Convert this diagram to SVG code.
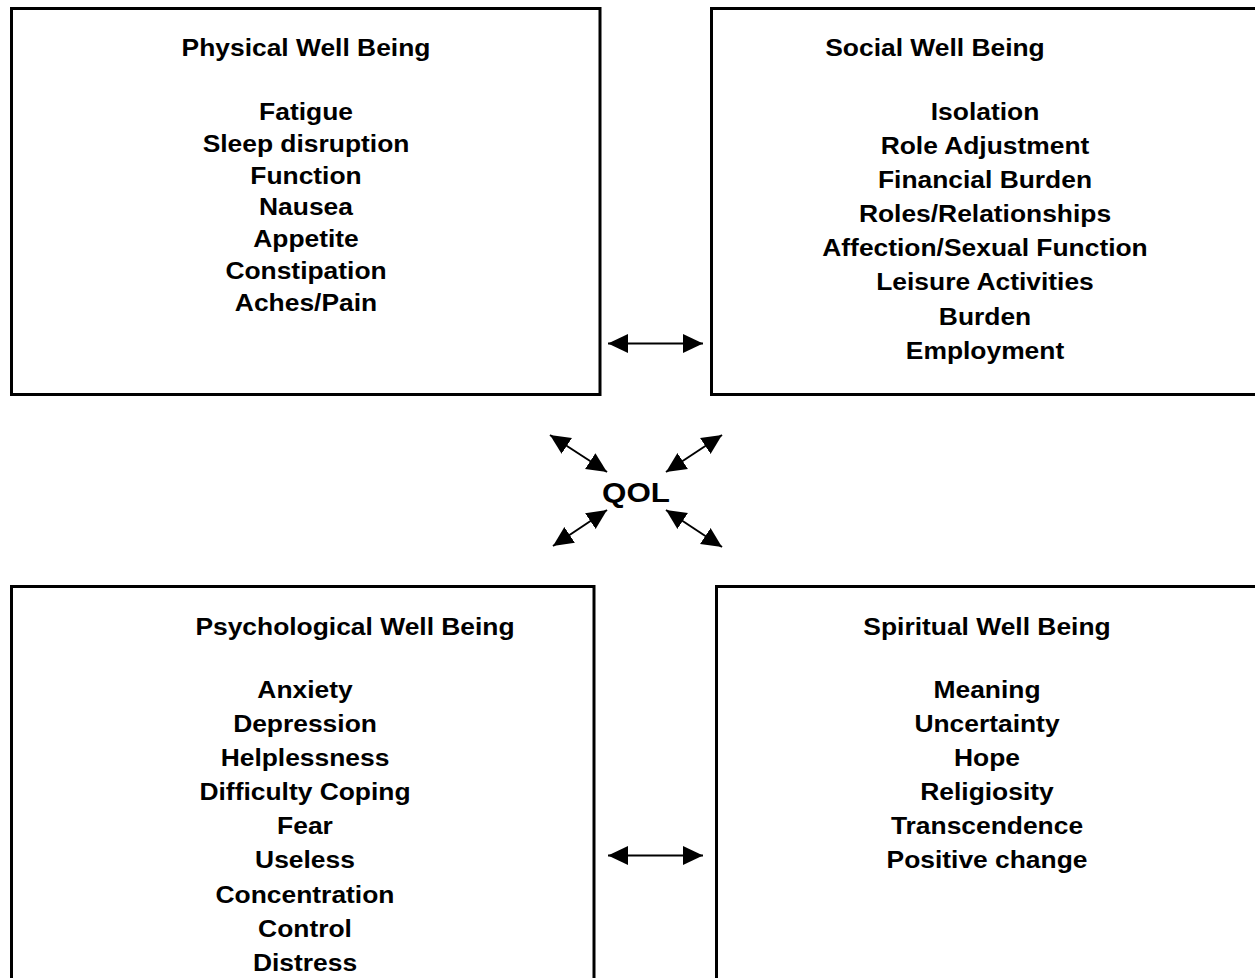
<svg xmlns="http://www.w3.org/2000/svg" width="1255" height="978" viewBox="0 0 1255 978">
<style>
.box{fill:#fff;stroke:#000;stroke-width:3}
.t{font-family:"Liberation Sans",Arial,sans-serif;font-weight:bold;font-size:24px;fill:#000;text-anchor:middle}
.q{font-size:28.5px}
.c{stroke:#000;stroke-width:2;fill:none;marker-start:url(#ah);marker-end:url(#ah)}
</style>
<defs>
<marker id="ah" markerUnits="userSpaceOnUse" markerWidth="21" markerHeight="20" refX="20" refY="10" orient="auto-start-reverse">
<path d="M0,0.5 L20,10 L0,19.5 z" fill="#000"/>
</marker>
</defs>
<rect width="1255" height="978" fill="#fff"/>
<g id="physical">
<rect class="box" x="11.5" y="8.5" width="588.5" height="386"/>
<g transform="translate(306,0) scale(1.1,1)">
<text class="t" x="0" y="56">Physical Well Being</text>
<text class="t" x="0" y="120">Fatigue</text>
<text class="t" x="0" y="151.8">Sleep disruption</text>
<text class="t" x="0" y="183.6">Function</text>
<text class="t" x="0" y="215.4">Nausea</text>
<text class="t" x="0" y="247.2">Appetite</text>
<text class="t" x="0" y="279">Constipation</text>
<text class="t" x="0" y="310.8">Aches/Pain</text>
</g>
</g>
<g id="social">
<rect class="box" x="711.5" y="8.5" width="560" height="386"/>
<g transform="translate(935,0) scale(1.1,1)">
<text class="t" x="0" y="56">Social Well Being</text>
</g>
<g transform="translate(985,0) scale(1.1,1)">
<text class="t" x="0" y="120">Isolation</text>
<text class="t" x="0" y="154.1">Role Adjustment</text>
<text class="t" x="0" y="188.2">Financial Burden</text>
<text class="t" x="0" y="222.3">Roles/Relationships</text>
<text class="t" x="0" y="256.4">Affection/Sexual Function</text>
<text class="t" x="0" y="290.5">Leisure Activities</text>
<text class="t" x="0" y="324.6">Burden</text>
<text class="t" x="0" y="358.7">Employment</text>
</g>
</g>
<g id="psychological">
<rect class="box" x="11.5" y="586.5" width="582.5" height="420"/>
<g transform="translate(355,0) scale(1.1,1)">
<text class="t" x="0" y="635">Psychological Well Being</text>
</g>
<g transform="translate(305,0) scale(1.1,1)">
<text class="t" x="0" y="698">Anxiety</text>
<text class="t" x="0" y="732.1">Depression</text>
<text class="t" x="0" y="766.2">Helplessness</text>
<text class="t" x="0" y="800.3">Difficulty Coping</text>
<text class="t" x="0" y="834.4">Fear</text>
<text class="t" x="0" y="868.5">Useless</text>
<text class="t" x="0" y="902.6">Concentration</text>
<text class="t" x="0" y="936.7">Control</text>
<text class="t" x="0" y="970.8">Distress</text>
</g>
</g>
<g id="spiritual">
<rect class="box" x="716.5" y="586.5" width="560" height="420"/>
<g transform="translate(987,0) scale(1.1,1)">
<text class="t" x="0" y="635">Spiritual Well Being</text>
<text class="t" x="0" y="698">Meaning</text>
<text class="t" x="0" y="732.1">Uncertainty</text>
<text class="t" x="0" y="766.2">Hope</text>
<text class="t" x="0" y="800.3">Religiosity</text>
<text class="t" x="0" y="834.4">Transcendence</text>
<text class="t" x="0" y="868.5">Positive change</text>
</g>
</g>
<g id="qol">
<g transform="translate(636,0) scale(1.1,1)">
<text class="t q" x="0" y="502">QOL</text>
</g>
</g>
<g id="connectors">
<line class="c" x1="608" y1="343.5" x2="703" y2="343.5"/>
<line class="c" x1="608" y1="855.5" x2="703" y2="855.5"/>
<line class="c" x1="550" y1="435" x2="607" y2="472"/>
<line class="c" x1="666" y1="472" x2="722" y2="435"/>
<line class="c" x1="553" y1="546" x2="607" y2="510"/>
<line class="c" x1="666" y1="510" x2="722" y2="547"/>
</g>
</svg>
